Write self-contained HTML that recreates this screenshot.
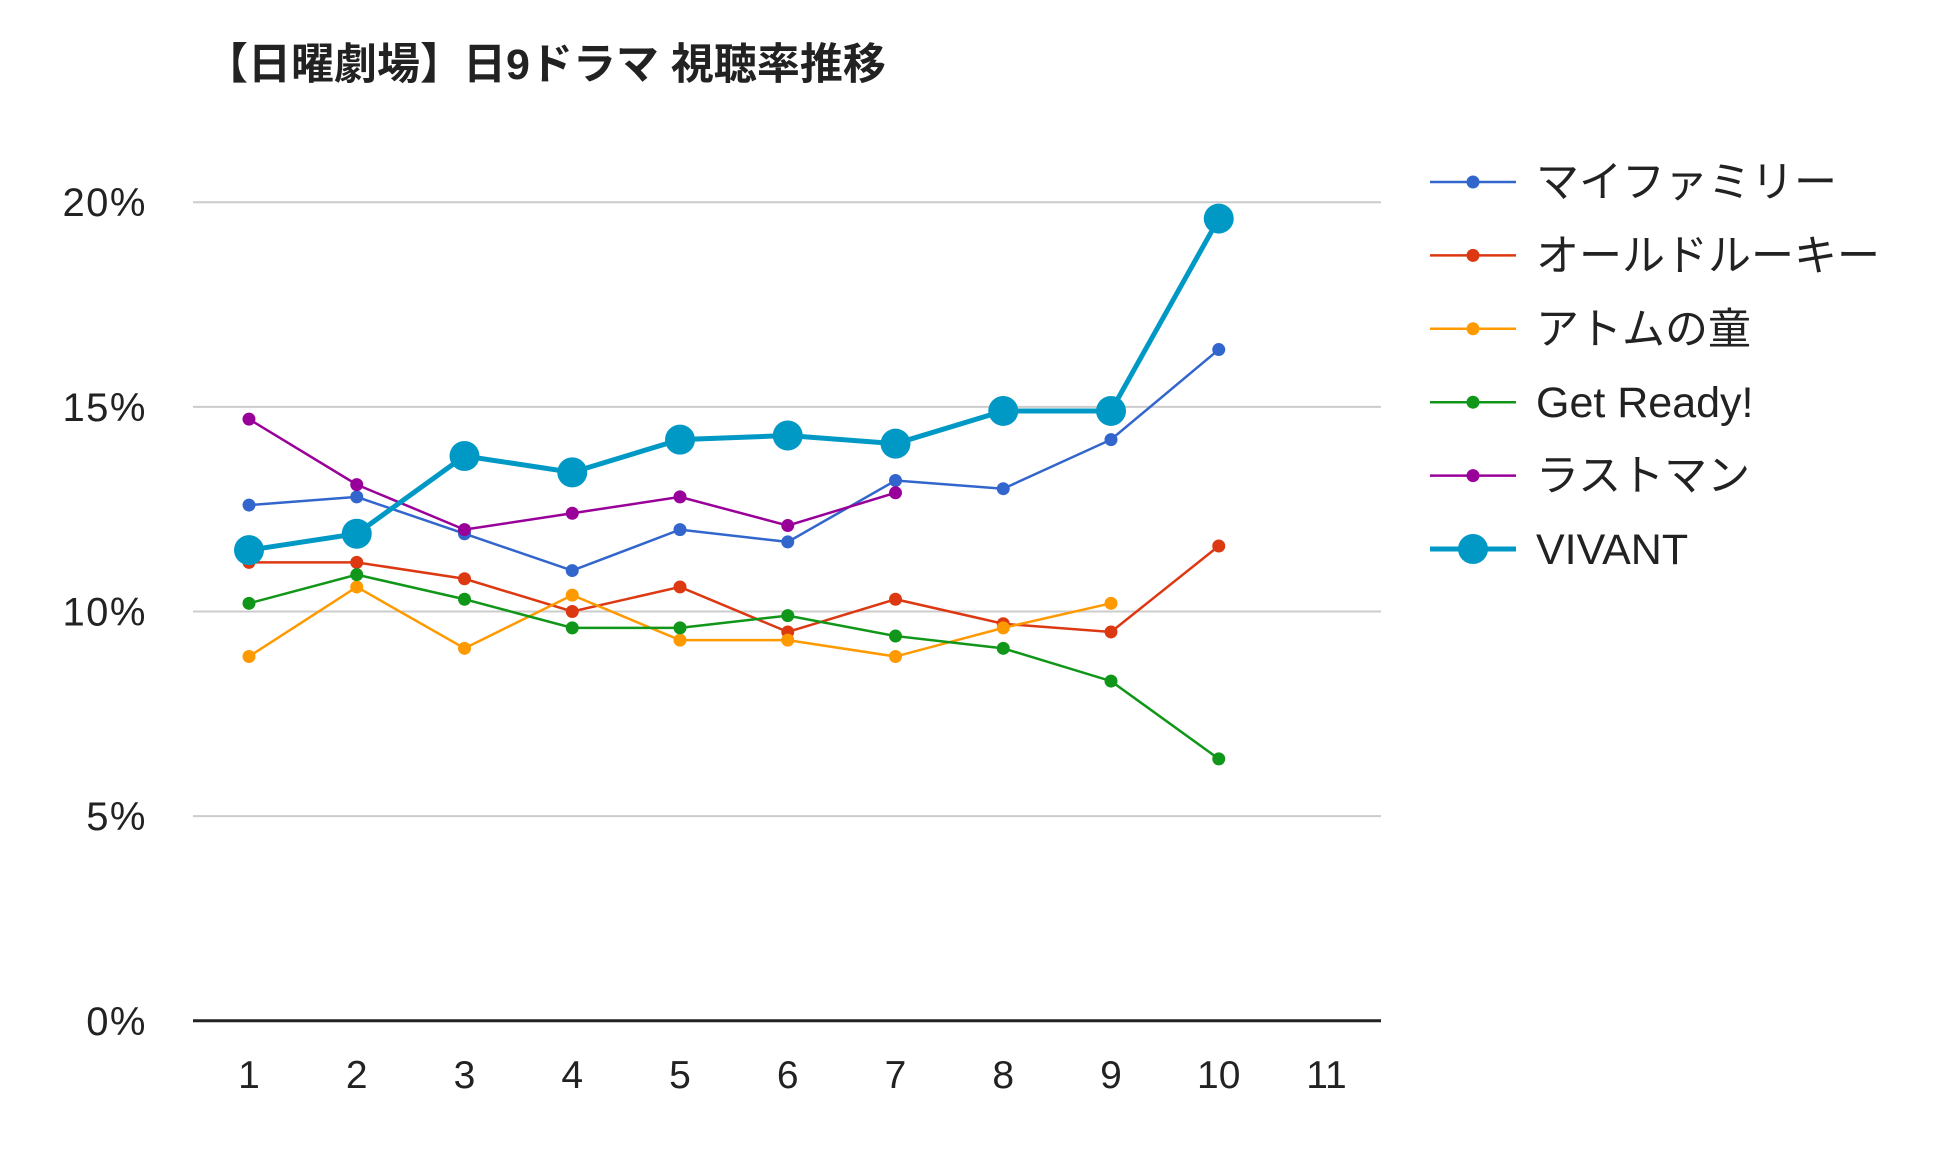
<!DOCTYPE html>
<html><head><meta charset="utf-8"><style>
body{margin:0;background:#fff}
svg text{font-family:"Liberation Sans","Noto Sans CJK JP",sans-serif}
</style></head><body>
<svg id="chart" width="1933" height="1150" xmlns="http://www.w3.org/2000/svg">
<rect width="1933" height="1150" fill="#fff"/>
<text x="205" y="79" font-size="43" font-weight="bold" fill="#222">【日曜劇場】日9ドラマ 視聴率推移</text>
<g id="grid"></g><g id="series"></g><g id="legend"></g>
</svg>
<script>
const categories=[1,2,3,4,5,6,7,8,9,10,11];
const yTicks=[0,5,10,15,20];
const yTickLabels=["0%","5%","10%","15%","20%"];
const seriesNames=["マイファミリー","オールドルーキー","アトムの童","Get Ready!","ラストマン","VIVANT"];
const myFamily=[12.6,12.8,11.9,11.0,12.0,11.7,13.2,13.0,14.2,16.4];
const oldRookie=[11.2,11.2,10.8,10.0,10.6,9.5,10.3,9.7,9.5,11.6];
const atom=[8.9,10.6,9.1,10.4,9.3,9.3,8.9,9.6,10.2];
const getReady=[10.2,10.9,10.3,9.6,9.6,9.9,9.4,9.1,8.3,6.4];
const lastMan=[14.7,13.1,12.0,12.4,12.8,12.1,12.9];
const vivant=[11.5,11.9,13.8,13.4,14.2,14.3,14.1,14.9,14.9,19.6];
const allSeries=[myFamily,oldRookie,atom,getReady,lastMan,vivant];
const colors=["#3366cc","#dc3912","#ff9900","#109618","#990099","#0099c6"];
const NS="http://www.w3.org/2000/svg";
const x=c=>249+(c-1)*107.75;
const y=v=>1020.8-v*40.93;
function mk(tag,attrs,parent){const e=document.createElementNS(NS,tag);for(const k in attrs)e.setAttribute(k,attrs[k]);parent.appendChild(e);return e;}
const grid=document.getElementById('grid');
yTicks.forEach((t,i)=>{
  if(t>0){const l=mk('line',{x1:193,x2:1381,y1:y(t),y2:y(t),stroke:'#ccc','stroke-width':2},grid);
  
  }
  const tx=mk('text',{x:147,y:y(t)+14,'font-size':40,'letter-spacing':1.5,'text-anchor':'end',fill:'#222'},grid);
  tx.textContent=yTickLabels[i];
  
  
});
const ax=mk('line',{x1:193,x2:1381,y1:y(0),y2:y(0),stroke:'#222','stroke-width':3},grid);


categories.forEach(c=>{
  const tx=mk('text',{x:x(c),y:1088,'font-size':39,'text-anchor':'middle',fill:'#222'},grid);
  tx.textContent=c;
  
  
});
const sg=document.getElementById('series');
allSeries.forEach((d,si)=>{
  const big=si===5;
  const g=mk('g',{},sg);
  
  
  const p=mk('polyline',{points:d.map((v,i)=>x(categories[i])+','+y(v)).join(' '),fill:'none',stroke:colors[si],'stroke-width':big?5:2.5},g);
  
  
  d.forEach((v,i)=>{
    const c=mk('circle',{cx:x(categories[i]),cy:y(v),r:big?15:6.5,fill:colors[si]},g);
    
    
  });
});
const lg=document.getElementById('legend');
seriesNames.forEach((n,i)=>{
  const big=i===5;const ly=182+i*73.4;
  const g=mk('g',{},lg);
  
  
  mk('line',{x1:1430,x2:1516,y1:ly,y2:ly,stroke:colors[i],'stroke-width':big?5:2.5},g);
  mk('circle',{cx:1473,cy:ly,r:big?15:6.5,fill:colors[i]},g);
  const t=mk('text',{x:1536,y:ly+15,'font-size':43,fill:'#222'},g);
  t.textContent=n;
});
</script>
</body></html>
